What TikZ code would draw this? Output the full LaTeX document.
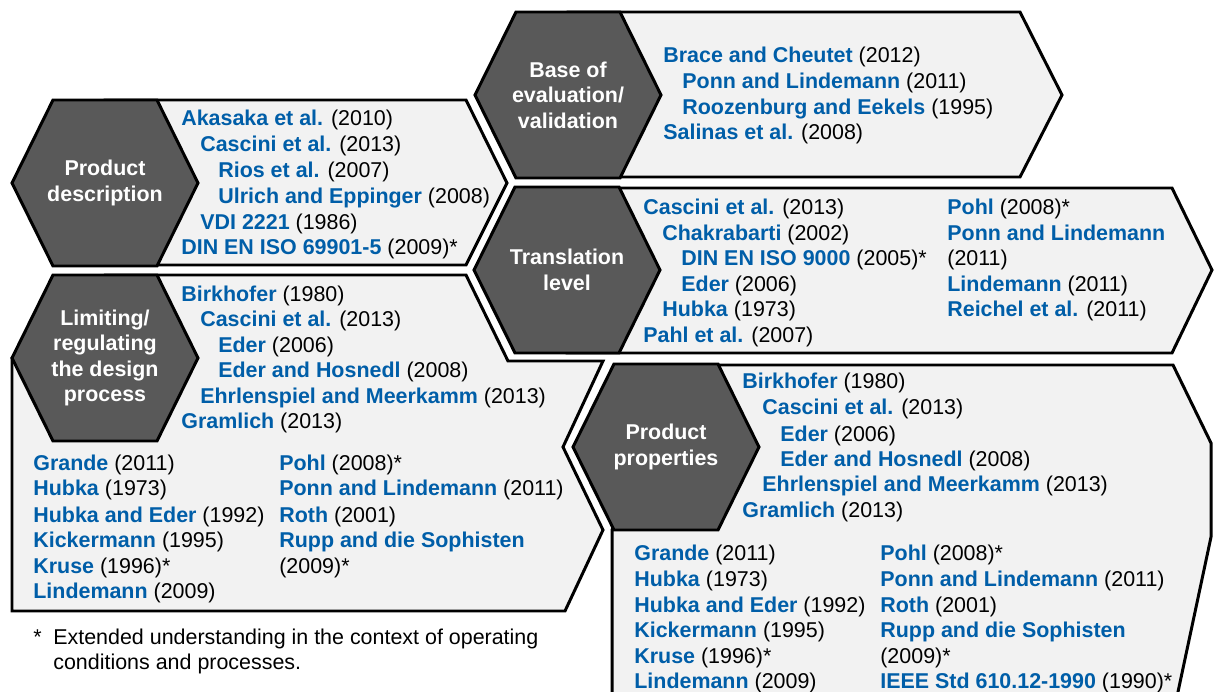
\documentclass[tikz,border=0pt]{standalone}
\usepackage{fontspec}
\setmainfont{Liberation Sans}
\usepackage{tikz}
\definecolor{litblue}{RGB}{0, 94, 168}
\definecolor{hexgray}{RGB}{89, 89, 89}
\definecolor{panelgray}{RGB}{242, 242, 242}
\newcommand{\basefont}{\fontsize{12.2}{14.5}\selectfont}
\newcommand{\cit}[2]{\textcolor{litblue}{\textbf{#1}} (#2)}
\newcommand{\hexpath}[2]{({#1-93}, #2) -- ({#1-52}, {#2-83}) -- ({#1+52}, {#2-83}) -- ({#1+93}, #2) -- ({#1+52}, {#2+83}) -- ({#1-52}, {#2+83}) -- cycle}
\tikzset{panel/.style = {fill = panelgray, draw = black, line width = 1.7pt, line join = miter}}
\tikzset{hexa/.style = {fill = hexgray, draw = black, line width = 1.7pt, line join = miter}}
\tikzset{hexlabel/.style = {text = white, font = \basefont\bfseries, align = center}}
\tikzset{lit/.style = {anchor = base west, inner sep = 0, font = \basefont}}

\begin{document}
\begin{tikzpicture}[x = 0.02cm, y = -0.02cm]

       \useasboundingbox (0, 0) rectangle (1214, 692);

       % panels
       \filldraw [panel] (568, 12) -- (1020, 12) -- (1062, 95) -- (1020, 177) -- (568, 177) -- cycle;
       \filldraw [panel] (105, 100) -- (466, 100) -- (507, 183) -- (466, 265) -- (105, 265) -- cycle;
       \filldraw [panel] (567, 188) -- (1172, 188) -- (1212, 270) -- (1172, 353) -- (567, 353) -- cycle;
       \filldraw [panel] (105, 275) -- (466, 275) -- (508, 361) -- (603, 361) -- (563, 447) -- (603, 530) -- (565, 611) -- (12, 611) -- (12, 358) -- cycle;
       \begin{scope}
         \clip (0, 0) rectangle (1214, 692);
         \filldraw [panel] (666, 365) -- (1173, 365) -- (1211, 443) -- (1211, 537) -- (1172, 720) -- (612, 720) -- (612, 530) -- cycle;
       \end{scope}

       % hexagons
       \filldraw [hexa] \hexpath{568}{95};
       \filldraw [hexa] \hexpath{105}{183};
       \filldraw [hexa] \hexpath{567}{270};
       \filldraw [hexa] \hexpath{105}{358};
       \filldraw [hexa] \hexpath{666}{447};

       \node [hexlabel] (base) at (568, 95) {Base of\\evaluation/\\validation};
       \node [hexlabel] (descr) at (105, 183) {Product\\description};
       \node [hexlabel] (trans) at (567, 270) {Translation\\level};
       \node [hexlabel] (limit) at (105, 358) {Limiting/\\regulating\\the design\\process};
       \node [hexlabel] (props) at (666, 447) {Product\\properties};

       % base of evaluation
       \node [lit] (b1) at (663, 63) {\cit{Brace and Cheutet}{2012}};
       \node [lit] (b2) at (682, 89) {\cit{Ponn and Lindemann}{2011}};
       \node [lit] (b3) at (682, 115) {\cit{Roozenburg and Eekels}{1995}};
       \node [lit] (b4) at (663, 140) {\cit{Salinas et al.}{2008}};

       % product description
       \node [lit] (p1) at (181, 126) {\cit{Akasaka et al.}{2010}};
       \node [lit] (p2) at (200, 152) {\cit{Cascini et al.}{2013}};
       \node [lit] (p3) at (218, 178) {\cit{Rios et al.}{2007}};
       \node [lit] (p4) at (218, 204) {\cit{Ulrich and Eppinger}{2008}};
       \node [lit] (p5) at (200, 230) {\cit{VDI 2221}{1986}};
       \node [lit] (p6) at (181, 255) {\cit{DIN EN ISO 69901-5}{2009}*};

       % translation level
       \node [lit] (t1) at (643, 215) {\cit{Cascini et al.}{2013}};
       \node [lit] (t2) at (662, 241) {\cit{Chakrabarti}{2002}};
       \node [lit] (t3) at (681, 266) {\cit{DIN EN ISO 9000}{2005}*};
       \node [lit] (t4) at (681, 292) {\cit{Eder}{2006}};
       \node [lit] (t5) at (662, 317) {\cit{Hubka}{1973}};
       \node [lit] (t6) at (643, 343) {\cit{Pahl et al.}{2007}};
       \node [lit] (t7) at (947, 215) {\cit{Pohl}{2008}*};
       \node [lit] (t8) at (947, 241) {\textcolor{litblue}{\textbf{Ponn and Lindemann}}};
       \node [lit] (t9) at (947, 266) {(2011)};
       \node [lit] (t10) at (947, 292) {\cit{Lindemann}{2011}};
       \node [lit] (t11) at (947, 317) {\cit{Reichel et al.}{2011}};

       % limiting / regulating
       \node [lit] (l1) at (181, 302) {\cit{Birkhofer}{1980}};
       \node [lit] (l2) at (200, 327) {\cit{Cascini et al.}{2013}};
       \node [lit] (l3) at (218, 353) {\cit{Eder}{2006}};
       \node [lit] (l4) at (218, 378) {\cit{Eder and Hosnedl}{2008}};
       \node [lit] (l5) at (200, 404) {\cit{Ehrlenspiel and Meerkamm}{2013}};
       \node [lit] (l6) at (181, 429) {\cit{Gramlich}{2013}};
       \node [lit] (l7) at (33, 471) {\cit{Grande}{2011}};
       \node [lit] (l8) at (33, 496) {\cit{Hubka}{1973}};
       \node [lit] (l9) at (33, 522) {\cit{Hubka and Eder}{1992}};
       \node [lit] (l10) at (33, 547) {\cit{Kickermann}{1995}};
       \node [lit] (l11) at (33, 573) {\cit{Kruse}{1996}*};
       \node [lit] (l12) at (33, 598) {\cit{Lindemann}{2009}};
       \node [lit] (l13) at (279, 471) {\cit{Pohl}{2008}*};
       \node [lit] (l14) at (279, 496) {\cit{Ponn and Lindemann}{2011}};
       \node [lit] (l15) at (279, 522) {\cit{Roth}{2001}};
       \node [lit] (l16) at (279, 547) {\textcolor{litblue}{\textbf{Rupp and die Sophisten}}};
       \node [lit] (l17) at (279, 573) {(2009)*};

       % product properties
       \node [lit] (r1) at (742, 389) {\cit{Birkhofer}{1980}};
       \node [lit] (r2) at (762, 415) {\cit{Cascini et al.}{2013}};
       \node [lit] (r3) at (780, 441) {\cit{Eder}{2006}};
       \node [lit] (r4) at (780, 466) {\cit{Eder and Hosnedl}{2008}};
       \node [lit] (r5) at (762, 492) {\cit{Ehrlenspiel and Meerkamm}{2013}};
       \node [lit] (r6) at (742, 518) {\cit{Gramlich}{2013}};
       \node [lit] (r7) at (634, 561) {\cit{Grande}{2011}};
       \node [lit] (r8) at (634, 586) {\cit{Hubka}{1973}};
       \node [lit] (r9) at (634, 612) {\cit{Hubka and Eder}{1992}};
       \node [lit] (r10) at (634, 637) {\cit{Kickermann}{1995}};
       \node [lit] (r11) at (634, 663) {\cit{Kruse}{1996}*};
       \node [lit] (r12) at (634, 688) {\cit{Lindemann}{2009}};
       \node [lit] (r13) at (880, 561) {\cit{Pohl}{2008}*};
       \node [lit] (r14) at (880, 586) {\cit{Ponn and Lindemann}{2011}};
       \node [lit] (r15) at (880, 612) {\cit{Roth}{2001}};
       \node [lit] (r16) at (880, 637) {\textcolor{litblue}{\textbf{Rupp and die Sophisten}}};
       \node [lit] (r17) at (880, 663) {(2009)*};
       \node [lit] (r18) at (880, 688) {\cit{IEEE Std 610.12-1990}{1990}*};

       % footnote
       \node [lit] (star) at (33, 644) {*};
       \node [lit] (foot1) at (53, 644) {Extended understanding in the context of operating};
       \node [lit] (foot2) at (53, 669) {conditions and processes.};

    \end{tikzpicture}
\end{document}
